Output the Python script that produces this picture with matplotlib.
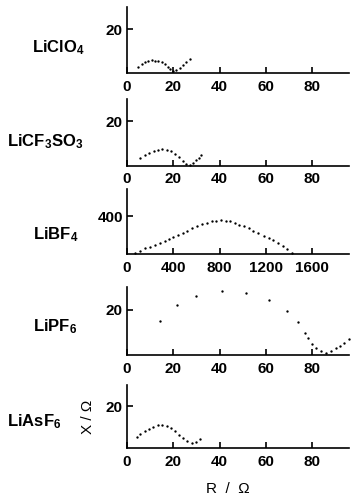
import matplotlib
matplotlib.use("Agg")
import matplotlib.pyplot as plt

plt.rcParams['font.family'] = ['Liberation Sans', 'DejaVu Sans']
plt.rcParams['mathtext.fontset'] = 'custom'
plt.rcParams['mathtext.bf'] = 'Liberation Sans:bold'
plt.rcParams['mathtext.rm'] = 'Liberation Sans:bold'
plt.rcParams['mathtext.default'] = 'bf'

# Impedance data (R / ohm, X / ohm)
clo4_r = [4.9, 6.3, 7.8, 9.2, 10.7, 12.1, 13.5, 15.0, 16.4, 17.6, 18.7, 19.9, 21.3, 22.8, 24.2, 25.6, 27.1]
clo4_x = [2.9, 4.2, 5.0, 5.6, 5.9, 5.6, 5.3, 5.0, 4.1, 2.9, 1.9, 0.9, 1.4, 2.5, 3.7, 5.0, 6.4]

cf3so3_r = [5.8, 7.6, 9.5, 11.5, 13.4, 15.3, 17.1, 19.0, 20.8, 22.5, 24.2, 25.7, 27.1, 28.6, 29.9, 31.0, 32.2]
cf3so3_x = [3.5, 4.9, 5.8, 6.6, 7.1, 7.4, 7.2, 6.6, 5.4, 3.8, 2.2, 0.8, 0.3, 1.1, 2.3, 3.5, 4.9]

bf4_r = [67, 110, 154, 197, 240, 284, 327, 362, 400, 437, 481, 521, 564, 608, 646, 689, 733,
         770, 811, 854, 891, 935, 972, 1013, 1056, 1094, 1137, 1181, 1224, 1262, 1305, 1345, 1384, 1427]
bf4_x = [17, 38, 64, 81, 99, 117, 142, 160, 181, 205, 227, 251, 277, 301, 319, 336, 347,
         354, 358, 354, 347, 330, 312, 294, 277, 248, 223, 198, 177, 152, 123, 92, 53, 11]

pf6_r = [14.2, 21.7, 30.0, 41.0, 51.6, 61.2, 69.2, 73.9, 76.8, 78.3, 80.0, 81.9, 84.1, 86.0, 88.2, 90.2, 92.3, 94.0, 95.8]
pf6_x = [14.8, 22.2, 25.9, 28.4, 27.2, 24.4, 19.6, 14.5, 9.9, 7.4, 4.9, 3.2, 1.9, 1.0, 1.9, 2.9, 3.9, 5.5, 7.0]

asf6_r = [4.3, 5.8, 7.6, 9.4, 11.3, 13.3, 15.2, 17.1, 18.9, 20.6, 22.5, 24.3, 26.1, 28.0, 29.7, 31.6]
asf6_x = [5.4, 6.9, 8.1, 9.2, 10.3, 10.9, 10.9, 10.4, 9.5, 8.1, 6.5, 4.8, 3.4, 2.6, 3.0, 4.2]

names = [r'LiClO$_4$', r'LiCF$_3$SO$_3$', r'LiBF$_4$', r'LiPF$_6$', r'LiAsF$_6$']
series = [(clo4_r, clo4_x), (cf3so3_r, cf3so3_x), (bf4_r, bf4_x), (pf6_r, pf6_x), (asf6_r, asf6_x)]

# panel boxes in pixels: (top, baseline)
boxes = [(7, 73), (99, 165.5), (189, 254.3), (287, 355), (385, 448.3)]
# salt label positions in pixels: (left, centre y)
name_pos = [(32, 48), (7, 142), (33, 235), (33, 327), (7, 422)]

W, H = 351, 504
fig = plt.figure(figsize=(W / 100, H / 100), dpi=100)

for i, ((r, x), (top, base)) in enumerate(zip(series, boxes)):
    ax = fig.add_axes([127 / W, 1 - base / H, (349 - 127) / W, (base - top) / H])
    ax.plot(r, x, 'o', color='black', markersize=1.7, markeredgewidth=0, clip_on=False)
    for s in ['top', 'right']:
        ax.spines[s].set_visible(False)
    for s in ['left', 'bottom']:
        ax.spines[s].set_linewidth(1.2)
    ax.tick_params(direction='in', length=4, width=1.2, labelsize=11)
    ax.tick_params(axis='x', pad=5)
    ax.tick_params(axis='y', pad=3)
    if i == 2:
        ax.set_xlim(0, 1920)
        ax.set_ylim(0, 690)
        ax.set_xticks([0, 400, 800, 1200, 1600])
        ax.set_yticks([400])
    else:
        ax.set_xlim(0, 96)
        ax.set_ylim(0, 30)
        ax.set_xticks([0, 20, 40, 60, 80])
        ax.set_yticks([20])
    for lab in ax.get_xticklabels() + ax.get_yticklabels():
        lab.set_fontweight('bold')
    nx, ny = name_pos[i]
    fig.text(nx / W, 1 - ny / H, names[i], fontsize=12, fontweight='bold',
             ha='left', va='center')

fig.text(88 / W, 1 - 417 / H, 'X / Ω', rotation=90, fontsize=11,
         ha='center', va='center')
fig.text(228 / W, 1 - 489 / H, 'R  /  Ω', fontsize=11, ha='center', va='center')

fig.savefig('out.png', dpi=100)
